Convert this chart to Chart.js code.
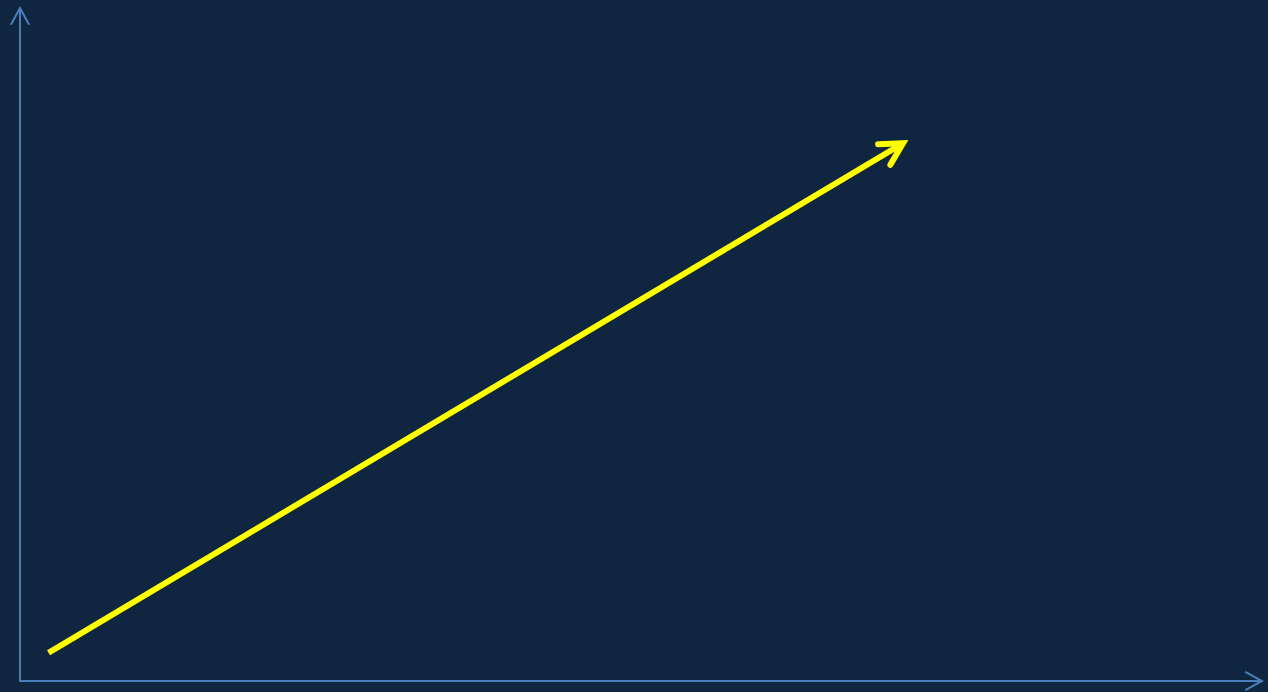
<!DOCTYPE html>
<html lang="en">
<head>
    <meta charset="UTF-8">
    <title>Growth arrow</title>
    <script src="https://cdn.jsdelivr.net/npm/chart.js"></script>
    <style>
        html, body { margin: 0; padding: 0; background: #10253f; }
        #box { width: 1268px; height: 692px; position: relative; }
    </style>
</head>
<body>
    <div id="box">
        <canvas id="myChart"></canvas>
    </div>

<script>
    // trend line: start and end points (axis units 0..100)
    var trendX = [2.3, 71.1];
    var trendY = [4.2, 79.9];
    var axisMin = 0;
    var axisMax = 100;

    var pontos = [];
    for (var i = 0; i < trendX.length; i++) {
        pontos.push({ x: trendX[i], y: trendY[i] });
    }

    function seta(ctx, tx, ty, ang, len, abertura) {
        // open chevron, arms pointing back from the tip
        ctx.beginPath();
        ctx.moveTo(tx + len * Math.cos(ang + Math.PI - abertura), ty + len * Math.sin(ang + Math.PI - abertura));
        ctx.lineTo(tx, ty);
        ctx.lineTo(tx + len * Math.cos(ang + Math.PI + abertura), ty + len * Math.sin(ang + Math.PI + abertura));
        ctx.stroke();
    }

    const eixos = {
        id: 'eixos',
        beforeDatasetsDraw(chart) {
            const ctx = chart.ctx;
            const x = chart.scales.x, y = chart.scales.y;
            const x0 = x.getPixelForValue(axisMin), y0 = y.getPixelForValue(axisMin);
            const x1 = x.getPixelForValue(axisMax), y1 = y.getPixelForValue(axisMax);
            ctx.save();
            ctx.strokeStyle = '#4a7ebb';
            ctx.lineWidth = 2;
            ctx.lineCap = 'butt';
            ctx.lineJoin = 'miter';
            ctx.beginPath();
            ctx.moveTo(x0, y1);
            ctx.lineTo(x0, y0);
            ctx.lineTo(x1, y0);
            ctx.stroke();
            seta(ctx, x0, y1, -Math.PI / 2, 19, 0.5);
            seta(ctx, x1, y0, 0, 19, 0.5);
            ctx.restore();
        },
        afterDatasetsDraw(chart) {
            const ctx = chart.ctx;
            const x = chart.scales.x, y = chart.scales.y;
            const n = trendX.length;
            const ax = x.getPixelForValue(trendX[n - 2]), ay = y.getPixelForValue(trendY[n - 2]);
            const bx = x.getPixelForValue(trendX[n - 1]), by = y.getPixelForValue(trendY[n - 1]);
            const ang = Math.atan2(by - ay, bx - ax);
            ctx.save();
            ctx.strokeStyle = '#ffff00';
            ctx.lineWidth = 6;
            ctx.lineCap = 'round';
            ctx.lineJoin = 'miter';
            seta(ctx, bx, by, ang, 25, 0.5);
            ctx.restore();
        }
    };

    const config = {
        type: 'line',
        data: {
            datasets: [{
                data: pontos,
                borderColor: '#ffff00',
                borderWidth: 6,
                borderCapStyle: 'butt',
                pointRadius: 0,
                fill: false,
                tension: 0
            }]
        },
        options: {
            responsive: true,
            maintainAspectRatio: false,
            animation: false,
            layout: { padding: { left: 20, right: 6, top: 8, bottom: 11 } },
            plugins: { legend: { display: false }, tooltip: { enabled: false } },
            scales: {
                x: { type: 'linear', min: axisMin, max: axisMax, display: false },
                y: { type: 'linear', min: axisMin, max: axisMax, display: false }
            }
        },
        plugins: [eixos]
    };

    const myChart = new Chart(document.getElementById('myChart'), config);
</script>
</body>
</html>
